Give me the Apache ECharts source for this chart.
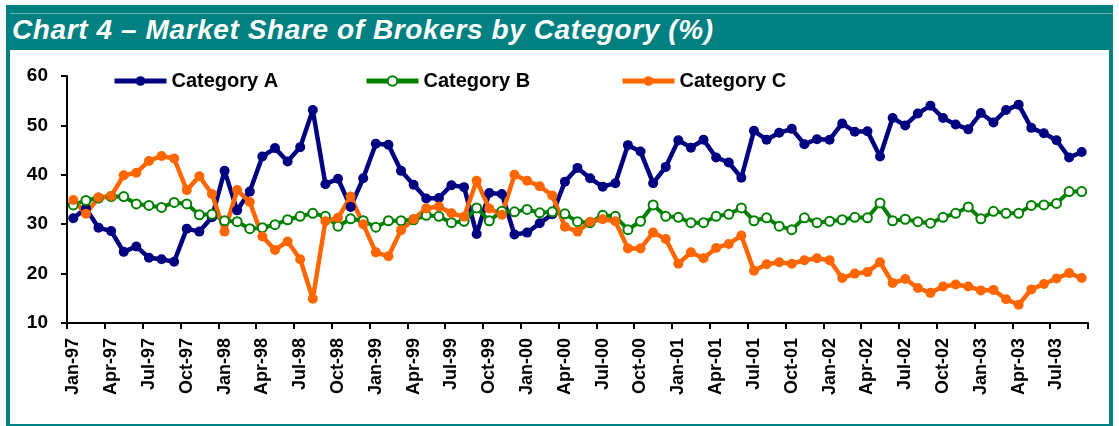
<!DOCTYPE html>
<html>
<head>
<meta charset="utf-8">
<script src="https://cdn.jsdelivr.net/npm/echarts@6/dist/echarts.min.js"></script>
<style>
  html, body { margin: 0; padding: 0; background: #fff; }
  .frame { position: absolute; left: 6px; top: 5px; width: 1107px; height: 421px; background: #008080; }
  .rule { position: absolute; left: 10px; top: 13px; width: 1103px; height: 1px; background: #66b3b3; }
  .title { position: absolute; left: 12px; top: 14px; color: #fff; font: italic bold 28px "Liberation Sans", Arial, sans-serif; letter-spacing: 0.6px; white-space: nowrap; }
  .plot { position: absolute; left: 10px; top: 50px; width: 1099px; height: 374px; background: #fff; }
  #chart { position: absolute; left: 0; top: 0; width: 1119px; height: 426px; }
</style>
</head>
<body>
<div class="frame"></div>
<div class="rule"></div>
<div class="title">Chart 4 – Market Share of Brokers by Category (%)</div>
<div class="plot"></div>
<div id="chart"></div>
<script>
// month labels Jan-97 .. Sep-03
const monthNames = ['Jan', 'Feb', 'Mar', 'Apr', 'May', 'Jun', 'Jul', 'Aug', 'Sep', 'Oct', 'Nov', 'Dec']
const years = ['97', '98', '99', '00', '01', '02', '03']
const categories = []
years.forEach(y => monthNames.forEach(m => categories.push(m + '-' + y)))
categories.length = 81

const catA = [
  31.2, 33.2, 29.3, 28.6, 24.4, 25.5, 23.2, 22.9, 22.4, 29.1, 28.5, 31.4,
  40.8, 32.8, 36.6, 43.7, 45.4, 42.7, 45.6, 53.1, 38.1, 39.2, 33.5, 39.3,
  46.3, 46.1, 40.8, 38.0, 35.2, 35.3, 37.9, 37.5, 28.0, 36.3, 36.1, 27.9,
  28.3, 30.2, 32.0, 38.6, 41.4, 39.3, 37.6, 38.3, 46.0, 44.7, 38.3, 41.6,
  47.0, 45.5, 47.1, 43.5, 42.5, 39.4, 48.9, 47.1, 48.5, 49.3, 46.2, 47.2,
  47.1, 50.4, 48.7, 48.8, 43.7, 51.5, 50.0, 52.4, 54.0, 51.5, 50.2, 49.2,
  52.5, 50.6, 53.1, 54.2, 49.5, 48.4, 47.0, 43.5, 44.6
]

const catB = [
  33.9, 34.8, 35.3, 35.6, 35.6, 34.1, 33.8, 33.4, 34.4, 34.1, 31.9, 32.0,
  30.7, 30.5, 29.1, 29.3, 29.9, 30.9, 31.6, 32.2, 31.6, 29.6, 31.1, 30.7,
  29.4, 30.7, 30.7, 30.9, 31.8, 31.6, 30.3, 30.6, 33.3, 30.7, 32.6, 32.5,
  33.0, 32.3, 32.5, 32.1, 30.5, 30.3, 31.8, 31.6, 28.9, 30.6, 33.9, 31.6,
  31.4, 30.3, 30.3, 31.6, 32.0, 33.3, 30.7, 31.3, 29.6, 28.9, 31.3, 30.3,
  30.6, 30.9, 31.4, 31.3, 34.3, 30.7, 31.0, 30.5, 30.2, 31.4, 32.2, 33.5,
  31.1, 32.6, 32.2, 32.2, 33.8, 33.9, 34.2, 36.6, 36.6
]

const catC = [
  34.9, 32.1, 35.4, 35.7, 39.9, 40.4, 42.8, 43.8, 43.3, 36.9, 39.7, 36.1,
  28.5, 36.9, 34.5, 27.5, 24.8, 26.5, 22.9, 14.9, 30.6, 31.3, 35.6, 30.0,
  24.3, 23.5, 28.8, 31.0, 33.2, 33.6, 32.2, 31.5, 38.8, 33.2, 31.9, 40.0,
  38.8, 37.7, 35.8, 29.5, 28.5, 30.5, 31.0, 30.6, 25.1, 25.1, 28.3, 27.0,
  22.0, 24.3, 23.1, 25.2, 26.0, 27.7, 20.6, 21.9, 22.3, 22.0, 22.7, 23.1,
  22.7, 19.1, 20.0, 20.3, 22.3, 18.1, 18.9, 17.1, 16.1, 17.4, 17.8, 17.4,
  16.6, 16.7, 14.8, 13.7, 16.8, 17.9, 19.0, 20.1, 19.1
]

const font = '"Liberation Sans", Arial, sans-serif'

const legendBase = {
  top: 66,
  itemWidth: 52,
  itemHeight: 12,
  lineStyle: { width: 5 },
  textStyle: { fontFamily: font, fontWeight: 'bold', fontSize: 20, color: '#000' }
}

const options = {
  animation: false,
  grid: { left: 67, right: 31, top: 76, bottom: 103, containLabel: false },
  legend: [
    { ...legendBase, left: 107, data: ['Category A'] },
    { ...legendBase, left: 359, data: ['Category B'] },
    { ...legendBase, left: 615, data: ['Category C'] }
  ],
  xAxis: {
    type: 'category',
    data: categories,
    boundaryGap: true,
    axisLine: { lineStyle: { color: '#000', width: 2 } },
    axisTick: { show: true, interval: 2, length: 6, lineStyle: { color: '#000', width: 2 } },
    axisLabel: {
      interval: 2,
      rotate: 90,
      margin: 15,
      color: '#000',
      fontFamily: font,
      fontWeight: 'bold',
      fontSize: 18
    },
    splitLine: { show: false }
  },
  yAxis: {
    type: 'value',
    min: 10,
    max: 60,
    interval: 10,
    axisLine: { show: true, lineStyle: { color: '#000', width: 2 } },
    axisTick: { show: true, length: 6, lineStyle: { color: '#000', width: 2 } },
    axisLabel: {
      margin: 19,
      color: '#000',
      fontFamily: font,
      fontWeight: 'bold',
      fontSize: 19
    },
    splitLine: { show: false }
  },
  series: [
    {
      name: 'Category A',
      type: 'line',
      data: catA,
      color: '#000080',
      symbol: 'circle',
      symbolSize: 10,
      showAllSymbol: true,
      lineStyle: { width: 4.5 },
      itemStyle: { color: '#000080' }
    },
    {
      name: 'Category B',
      type: 'line',
      data: catB,
      color: '#008000',
      symbol: 'emptyCircle',
      symbolSize: 9,
      showAllSymbol: true,
      lineStyle: { width: 4 },
      itemStyle: { color: '#008000', borderWidth: 2.2 }
    },
    {
      name: 'Category C',
      type: 'line',
      data: catC,
      color: '#ff6600',
      symbol: 'circle',
      symbolSize: 10,
      showAllSymbol: true,
      lineStyle: { width: 4.5 },
      itemStyle: { color: '#ff6600' }
    }
  ]
}

const chartInstance = echarts.init(document.getElementById('chart'))
chartInstance.setOption(options)
</script>
</body>
</html>
